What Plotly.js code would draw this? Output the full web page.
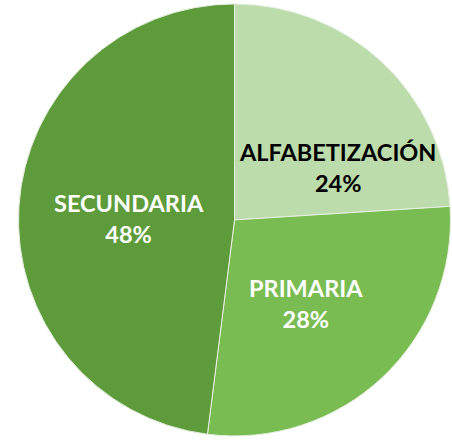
<!DOCTYPE html>
<html>
<head>
<meta charset="utf-8">
<script src="https://cdn.plot.ly/plotly-3.0.1.min.js"></script>
<style>html,body{margin:0;padding:0;background:#fff;}#chart{width:452px;height:446px;}</style>
</head>
<body>
<div id="chart"></div>
<script>
const labels = ["ALFABETIZACIÓN", "PRIMARIA", "SECUNDARIA"];
const values = [24, 28, 48];
const colors = ["#bcdcab", "#79bd52", "#5e9b3a"];
const textColors = ["#000000", "#ffffff", "#ffffff"];
// label placement (paper fractions), styling only
const labelX = [0.7467, 0.677, 0.2843];
const labelY = [0.6244, 0.3206, 0.5101];

const W = 452, H = 446;
const total = values.reduce((a, b) => a + b, 0);

const trace = {
  type: "pie",
  labels: labels,
  values: values,
  sort: false,
  direction: "clockwise",
  rotation: 0,
  marker: { colors: colors, line: { color: "#e8f0e4", width: 1 } },
  textinfo: "none",
  hoverinfo: "none",
  domain: { x: [0.0409, 0.9967], y: [0.0225, 0.9912] }
};

const annotations = labels.map((lab, i) => ({
  text: lab + "<br>" + Math.round(values[i] / total * 100) + "%",
  x: labelX[i],
  y: labelY[i],
  xref: "paper",
  yref: "paper",
  xanchor: "center",
  yanchor: "middle",
  showarrow: false,
  align: "center",
  font: { family: "Lato, 'Open Sans', sans-serif", size: 23.5, color: textColors[i], weight: "bold" }
}));

const layout = {
  width: W,
  height: H,
  margin: { l: 0, r: 0, t: 0, b: 0 },
  showlegend: false,
  paper_bgcolor: "#ffffff",
  annotations: annotations
};

Plotly.newPlot("chart", [trace], layout, { staticPlot: true, displayModeBar: false });
</script>
</body>
</html>
